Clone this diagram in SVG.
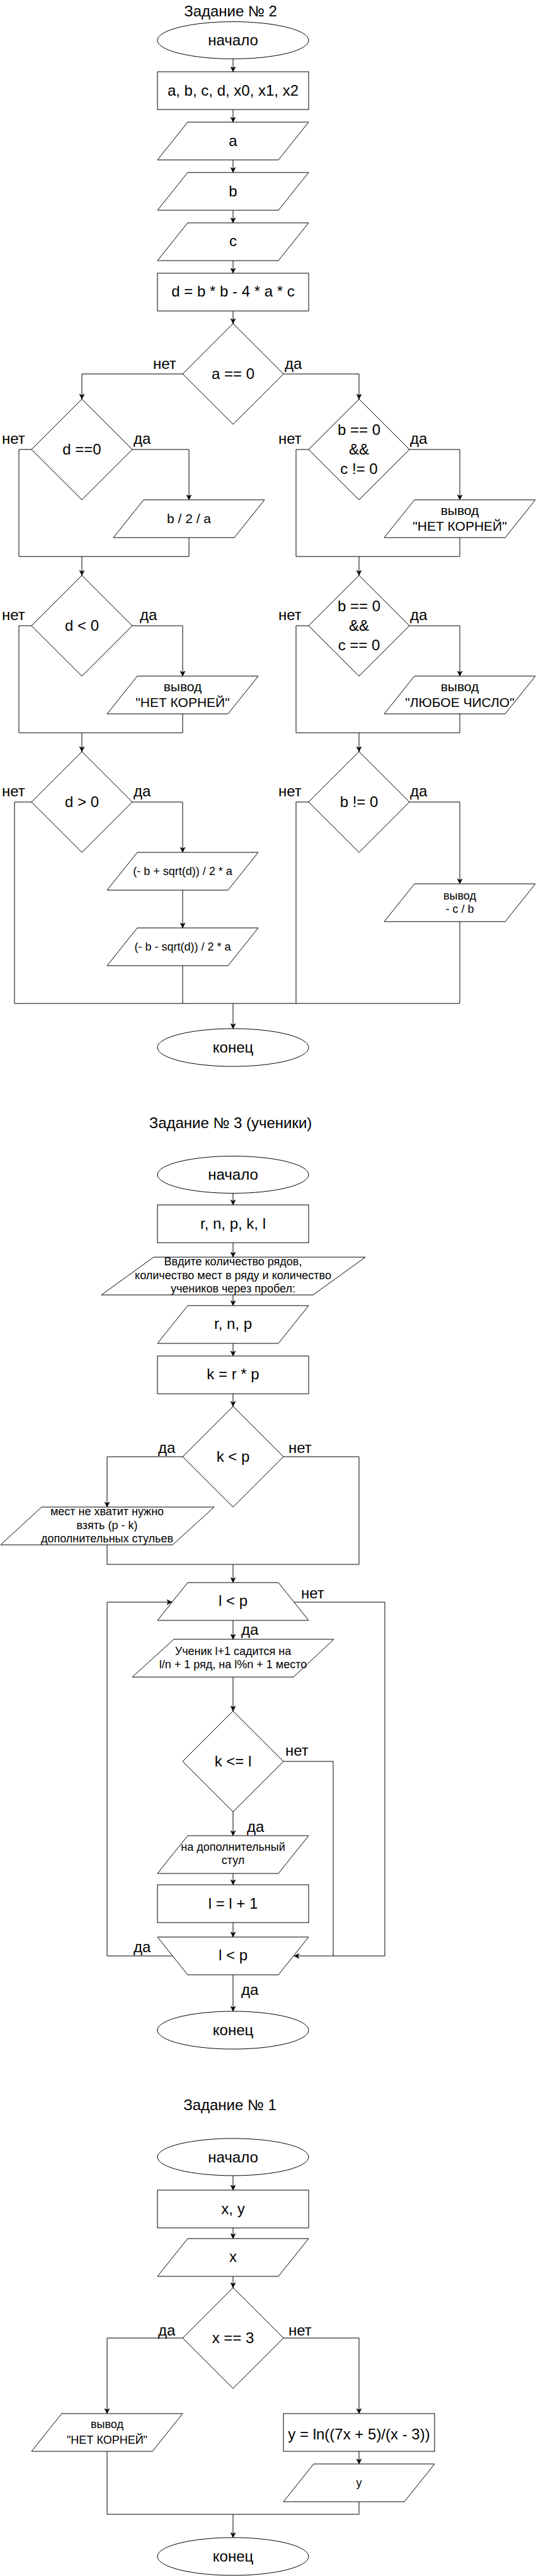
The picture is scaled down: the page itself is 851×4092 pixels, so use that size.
<svg xmlns="http://www.w3.org/2000/svg" width="851" height="4092" viewBox="0 0 851 4092">
<style>
.s{fill:#fff;stroke:#000;stroke-width:1}
.c{fill:none;stroke:#000;stroke-width:1}
.a{fill:none;stroke:#000;stroke-width:1;marker-end:url(#arr)}
text{font-family:"Liberation Sans",Arial,sans-serif;fill:#000}
.m{text-anchor:middle}
.f24{font-size:24px}
.f22{font-size:21px}
.f18{font-size:18px}
</style>
<defs>
<marker id="arr" markerUnits="userSpaceOnUse" markerWidth="10" markerHeight="10" viewBox="0 0 10 10" refX="9" refY="5" orient="auto">
<path d="M1,1 L9,5 L1,9 L3,5 z" fill="#000" stroke="#000" stroke-width="0.5"/>
</marker>
</defs>
<rect width="851" height="4092" fill="#fff"/>

<!-- ===== Task 2 ===== -->
<g id="connectors2">
<path class="a" d="M370,94 V114"/>
<path class="a" d="M370,174 V194"/>
<path class="a" d="M370,254 V274"/>
<path class="a" d="M370,334 V354"/>
<path class="a" d="M370,414 V434"/>
<path class="a" d="M370,494 V514"/>
<path class="a" d="M290,594 H130 V634"/>
<path class="a" d="M450,594 H570 V634"/>
<path class="a" d="M210,714 H300 V794"/>
<path class="c" d="M50,714 H30 V884 H300 V854"/>
<path class="a" d="M130,884 V914"/>
<path class="a" d="M210,994 H290 V1074"/>
<path class="c" d="M50,994 H30 V1164 H290 V1134"/>
<path class="a" d="M130,1164 V1194"/>
<path class="a" d="M210,1274 H290 V1354"/>
<path class="a" d="M290,1414 V1474"/>
<path class="c" d="M290,1534 V1594"/>
<path class="c" d="M50,1274 H23 V1594 H730 V1464"/>
<path class="a" d="M650,714 H730 V794"/>
<path class="c" d="M490,714 H470 V884 H730 V854"/>
<path class="a" d="M570,884 V914"/>
<path class="a" d="M650,994 H730 V1074"/>
<path class="c" d="M490,994 H470 V1164 H730 V1134"/>
<path class="a" d="M570,1164 V1194"/>
<path class="a" d="M650,1274 H730 V1404"/>
<path class="c" d="M490,1274 H470 V1594"/>
<path class="a" d="M370,1594 V1634"/>
<text class="f24" x="243" y="586">нет</text>
<text class="f24" x="452" y="586">да</text>
<text class="f24" x="3" y="705">нет</text>
<text class="f24" x="212" y="705">да</text>
<text class="f24" x="3" y="985">нет</text>
<text class="f24" x="222" y="985">да</text>
<text class="f24" x="3" y="1265">нет</text>
<text class="f24" x="212" y="1265">да</text>
<text class="f24" x="442" y="705">нет</text>
<text class="f24" x="651" y="705">да</text>
<text class="f24" x="442" y="985">нет</text>
<text class="f24" x="651" y="985">да</text>
<text class="f24" x="442" y="1265">нет</text>
<text class="f24" x="651" y="1265">да</text>
</g>

<g id="title2"><text class="f24 m" x="366" y="26">Задание № 2</text></g>
<g id="start2"><ellipse class="s" cx="370" cy="64" rx="120" ry="29.5"/><text class="f24 m" x="370" y="72">начало</text></g>
<g id="vars2"><rect class="s" x="250" y="114" width="240" height="60"/><text class="f24 m" x="370" y="152">a, b, c, d, x0, x1, x2</text></g>
<g id="inA"><polygon class="s" points="250,254 298,194 490,194 442,254"/><text class="f24 m" x="370" y="232">a</text></g>
<g id="inB"><polygon class="s" points="250,334 298,274 490,274 442,334"/><text class="f24 m" x="370" y="312">b</text></g>
<g id="inC"><polygon class="s" points="250,414 298,354 490,354 442,414"/><text class="f24 m" x="370" y="391">c</text></g>
<g id="calcD"><rect class="s" x="250" y="434" width="240" height="60"/><text class="f24 m" x="370" y="471">d = b * b - 4 * a * c</text></g>
<g id="condA"><polygon class="s" points="370,514 450,594 370,674 290,594"/><text class="f24 m" x="370" y="602">a == 0</text></g>

<g id="condD0"><polygon class="s" points="130,634 210,714 130,794 50,714"/><text class="f24 m" x="130" y="722">d ==0</text></g>
<g id="outB2a"><polygon class="s" points="180,854 228,794 420,794 372,854"/><text class="f22 m" x="300" y="831">b / 2 / a</text></g>
<g id="condDlt"><polygon class="s" points="130,914 210,994 130,1074 50,994"/><text class="f24 m" x="130" y="1002">d &lt; 0</text></g>
<g id="outNo1"><polygon class="s" points="170,1134 218,1074 410,1074 362,1134"/><text class="f22 m" x="290" y="1098">вывод</text><text class="f22 m" x="290" y="1123">"НЕТ КОРНЕЙ"</text></g>
<g id="condDgt"><polygon class="s" points="130,1194 210,1274 130,1354 50,1274"/><text class="f24 m" x="130" y="1282">d &gt; 0</text></g>
<g id="outX1"><polygon class="s" points="170,1414 218,1354 410,1354 362,1414"/><text class="f18 m" x="290" y="1390">(- b + sqrt(d)) / 2 * a</text></g>
<g id="outX2"><polygon class="s" points="170,1534 218,1474 410,1474 362,1534"/><text class="f18 m" x="290" y="1510">(- b - sqrt(d)) / 2 * a</text></g>

<g id="condBC1"><polygon class="s" points="570,634 650,714 570,794 490,714"/><text class="f24 m" x="570" y="691">b == 0</text><text class="f24 m" x="570" y="722">&amp;&amp;</text><text class="f24 m" x="570" y="753">c != 0</text></g>
<g id="outNo2"><polygon class="s" points="610,854 658,794 850,794 802,854"/><text class="f22 m" x="730" y="818">вывод</text><text class="f22 m" x="730" y="843">"НЕТ КОРНЕЙ"</text></g>
<g id="condBC2"><polygon class="s" points="570,914 650,994 570,1074 490,994"/><text class="f24 m" x="570" y="971">b == 0</text><text class="f24 m" x="570" y="1002">&amp;&amp;</text><text class="f24 m" x="570" y="1033">c == 0</text></g>
<g id="outAny"><polygon class="s" points="610,1134 658,1074 850,1074 802,1134"/><text class="f22 m" x="730" y="1098">вывод</text><text class="f22 m" x="730" y="1123">"ЛЮБОЕ ЧИСЛО"</text></g>
<g id="condB"><polygon class="s" points="570,1194 650,1274 570,1354 490,1274"/><text class="f24 m" x="570" y="1282">b != 0</text></g>
<g id="outCB"><polygon class="s" points="610,1464 658,1404 850,1404 802,1464"/><text class="f18 m" x="730" y="1429">вывод</text><text class="f18 m" x="730" y="1450">- c / b</text></g>
<g id="end2"><ellipse class="s" cx="370" cy="1664" rx="120" ry="30"/><text class="f24 m" x="370" y="1672">конец</text></g>

<!-- ===== Task 3 ===== -->
<g id="connectors3">
<path class="a" d="M370,1896 V1914"/>
<path class="a" d="M370,1974 V1997"/>
<path class="a" d="M370,2057 V2074"/>
<path class="a" d="M370,2134 V2154"/>
<path class="a" d="M370,2214 V2234"/>
<path class="a" d="M290,2314 H170 V2394"/>
<path class="c" d="M450,2314 H570 V2485 H170 V2454"/>
<path class="a" d="M370,2485 V2514"/>
<path class="a" d="M467,2545 H611 V3107 H467"/>
<path class="a" d="M370,2574 V2604"/>
<path class="a" d="M370,2664 V2718"/>
<path class="c" d="M450,2798 H529 V3107"/>
<path class="a" d="M370,2878 V2916"/>
<path class="a" d="M370,2976 V2994"/>
<path class="a" d="M370,3054 V3077"/>
<path class="a" d="M274,3107 H170 V2545 H273"/>
<path class="a" d="M370,3137 V3195"/>
<text class="f24" x="251" y="2308">да</text>
<text class="f24" x="458" y="2308">нет</text>
<text class="f24" x="478" y="2539">нет</text>
<text class="f24" x="383" y="2597">да</text>
<text class="f24" x="453" y="2789">нет</text>
<text class="f24" x="392" y="2910">да</text>
<text class="f24" x="212" y="3101">да</text>
<text class="f24" x="383" y="3169">да</text>
</g>
<g id="title3"><text class="f24 m" x="366" y="1792">Задание № 3 (ученики)</text></g>
<g id="start3"><ellipse class="s" cx="370" cy="1866" rx="120" ry="29.5"/><text class="f24 m" x="370" y="1874">начало</text></g>
<g id="vars3"><rect class="s" x="250" y="1914" width="240" height="60"/><text class="f24 m" x="370" y="1952">r, n, p, k, l</text></g>
<g id="prompt3"><polygon class="s" points="161,2057 244,1997 580,1997 497,2057"/><text class="f18 m" x="370" y="2010">Ввдите количество рядов,</text><text class="f18 m" x="370" y="2032">количество мест в ряду и количество</text><text class="f18 m" x="370" y="2053">учеников через пробел:</text></g>
<g id="inRNP"><polygon class="s" points="250,2134 298,2074 490,2074 442,2134"/><text class="f24 m" x="370" y="2111">r, n, p</text></g>
<g id="calcK"><rect class="s" x="250" y="2154" width="240" height="60"/><text class="f24 m" x="370" y="2191">k = r * p</text></g>
<g id="condKP"><polygon class="s" points="370,2234 450,2314 370,2394 290,2314"/><text class="f24 m" x="370" y="2322">k &lt; p</text></g>
<g id="outChairs"><polygon class="s" points="1,2454 66,2394 340,2394 274,2454"/><text class="f18 m" x="170" y="2407">мест не хватит нужно</text><text class="f18 m" x="170" y="2429">взять (p - k)</text><text class="f18 m" x="170" y="2450">дополнительных стульев</text></g>
<g id="loopStart"><polygon class="s" points="298,2514 442,2514 490,2574 250,2574"/><text class="f24 m" x="370" y="2551">l &lt; p</text></g>
<g id="outSeat"><polygon class="s" points="210,2664 276,2604 530,2604 466,2664"/><text class="f18 m" x="370" y="2629">Ученик l+1 садится на</text><text class="f18 m" x="370" y="2650">l/n + 1 ряд, на l%n + 1 место</text></g>
<g id="condKL"><polygon class="s" points="370,2718 450,2798 370,2878 290,2798"/><text class="f24 m" x="370" y="2806">k &lt;= l</text></g>
<g id="outExtra"><polygon class="s" points="250,2976 298,2916 490,2916 442,2976"/><text class="f18 m" x="370" y="2940">на дополнительный</text><text class="f18 m" x="370" y="2961">стул</text></g>
<g id="incL"><rect class="s" x="250" y="2994" width="240" height="60"/><text class="f24 m" x="370" y="3032">l = l + 1</text></g>
<g id="loopEnd"><polygon class="s" points="250,3077 490,3077 442,3137 298,3137"/><text class="f24 m" x="370" y="3114">l &lt; p</text></g>
<g id="end3"><ellipse class="s" cx="370" cy="3225" rx="120" ry="30"/><text class="f24 m" x="370" y="3233">конец</text></g>

<!-- ===== Task 1 ===== -->
<g id="connectors1">
<path class="a" d="M370,3456 V3479"/>
<path class="a" d="M370,3539 V3556"/>
<path class="a" d="M370,3616 V3634"/>
<path class="a" d="M290,3714 H170 V3834"/>
<path class="a" d="M450,3714 H570 V3834"/>
<path class="a" d="M570,3894 V3914"/>
<path class="c" d="M170,3894 V3994 H570 V3974"/>
<path class="a" d="M370,3994 V4031"/>
<text class="f24" x="251" y="3710">да</text>
<text class="f24" x="458" y="3710">нет</text>
</g>
<g id="title1"><text class="f24 m" x="365" y="3352">Задание № 1</text></g>
<g id="start1"><ellipse class="s" cx="370" cy="3426.5" rx="120" ry="29.5"/><text class="f24 m" x="370" y="3435">начало</text></g>
<g id="vars1"><rect class="s" x="250" y="3479" width="240" height="60"/><text class="f24 m" x="370" y="3517">x, y</text></g>
<g id="inX"><polygon class="s" points="250,3616 298,3556 490,3556 442,3616"/><text class="f24 m" x="370" y="3593">x</text></g>
<g id="condX"><polygon class="s" points="370,3634 450,3714 370,3794 290,3714"/><text class="f24 m" x="370" y="3722">x == 3</text></g>
<g id="outNo3"><polygon class="s" points="50,3894 98,3834 290,3834 242,3894"/><text class="f18 m" x="170" y="3857">вывод</text><text class="f18 m" x="170" y="3882">"НЕТ КОРНЕЙ"</text></g>
<g id="calcY"><rect class="s" x="450" y="3834" width="240" height="60"/><text class="f24 m" x="570" y="3875">y = ln((7x + 5)/(x - 3))</text></g>
<g id="outY"><polygon class="s" points="450,3974 498,3914 690,3914 642,3974"/><text class="f18 m" x="570" y="3950">y</text></g>
<g id="end1"><ellipse class="s" cx="370" cy="4061" rx="120" ry="30"/><text class="f24 m" x="370" y="4069">конец</text></g>
</svg>
